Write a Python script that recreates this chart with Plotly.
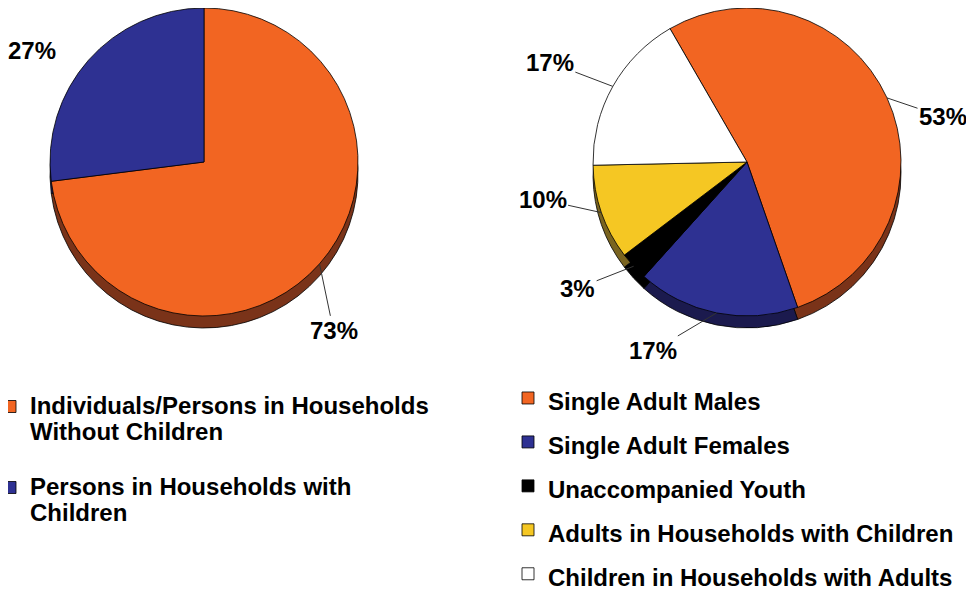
import numpy as np
import plotly.graph_objects as go

# The page body adds an 8px margin at the top-left, so the figure is made
# 8px smaller and reference pixel positions are shifted by that margin.
PAGE_W, PAGE_H, BODY = 974, 593, 8
W, H = PAGE_W - BODY, PAGE_H - BODY
FONT = "Liberation Sans, Arial, sans-serif"

# ---------------- data ----------------
left_labels = ["Individuals/Persons in Households<br>Without Children",
               "Persons in Households with<br>Children"]
left_values = [73, 27]
left_colors = ["#F26522", "#2E3192"]
left_shadow = ["#7A3319", "#1B1A4E"]

right_labels = ["Single Adult Males", "Single Adult Females", "Unaccompanied Youth",
                "Adults in Households with Children", "Children in Households with Adults"]
right_values = [53, 17, 3, 10, 17]
right_colors = ["#F26522", "#2E3192", "#000000", "#F5C723", "#FFFFFF"]
right_shadow = ["#7A3319", "#1B1A4E", "#000000", "#7A6420", "#BBBBBB"]

# ---------------- layout / style (figure pixels) ----------------
LEFT = dict(cx=204 - BODY, cy=162 - BODY, r=154, rot=0,
            label_off=[(14, 67), (-56, -10)], leader=[True, False])
RIGHT = dict(cx=747 - BODY, cy=162 - BODY, r=154, rot=-30,
             label_off=[(56, 19), (-64, 38), (-56, 22), (-59, -13), (-63, -24)],
             leader=[True, True, True, True, True])
DEPTH = 12
TEXT_PX = 24


def dom(p, dy=0):
    y0 = max(0.0, 1 - (p["cy"] + p["r"] + dy) / H)
    y1 = min(1.0, 1 - (p["cy"] - p["r"] + dy) / H)
    return dict(x=[(p["cx"] - p["r"]) / W, (p["cx"] + p["r"]) / W], y=[y0, y1])


def pie(labels, values, colors, p, dy=0, showlegend=True, legend="legend"):
    return go.Pie(labels=labels, values=values, sort=False, direction="clockwise",
                  rotation=p["rot"], domain=dom(p, dy),
                  marker=dict(colors=colors, line=dict(color="#000000", width=0.8)),
                  textinfo="none", hoverinfo="label+percent",
                  showlegend=showlegend, legend=legend)


def pct_annotations(values, p):
    vals = np.asarray(values, dtype=float)
    total = vals.sum()
    mids = (np.cumsum(vals) - vals / 2) / total
    anns = []
    for v, m, (ox, oy), lead in zip(vals, mids, p["label_off"], p["leader"]):
        th = np.deg2rad(p["rot"] + 360 * m)
        rx = p["cx"] + p["r"] * np.sin(th)
        ry = p["cy"] - p["r"] * np.cos(th)
        anns.append(dict(
            x=rx / W, y=1 - ry / H, xref="paper", yref="paper",
            ax=ox, ay=oy,
            text=f"{round(100 * v / total)}%", showarrow=True,
            arrowhead=0, arrowwidth=1,
            arrowcolor="#333333" if lead else "rgba(0,0,0,0)",
            font=dict(family=FONT, size=TEXT_PX, color="#000000", weight="bold")))
    return anns


def legend_text(label, extra_line=False):
    lines = [f"<span style='font-size:{TEXT_PX}px'>{ln}</span>" for ln in label.split("<br>")]
    if extra_line:
        lines.append(" ")
    return "<br>".join(lines)


fig = go.Figure()
fig.add_trace(pie(left_labels, left_values, left_shadow, LEFT, dy=DEPTH, showlegend=False))
fig.add_trace(pie(right_labels, right_values, right_shadow, RIGHT, dy=DEPTH, showlegend=False))
fig.add_trace(pie([legend_text(t, True) for t in left_labels],
                  left_values, left_colors, LEFT, legend="legend"))
fig.add_trace(pie([legend_text(t) for t in right_labels],
                  right_values, right_colors, RIGHT, legend="legend2"))

fig.update_layout(
    width=W, height=H,
    margin=dict(l=0, r=0, t=0, b=0, autoexpand=False),
    paper_bgcolor="#FFFFFF", plot_bgcolor="#FFFFFF",
    annotations=pct_annotations(left_values, LEFT) + pct_annotations(right_values, RIGHT),
    legend=dict(x=-18 / W, y=1 - 379 / H, xanchor="left", yanchor="top",
                valign="top", bgcolor="rgba(0,0,0,0)",
                font=dict(family=FONT, size=20, color="#000000", weight="bold")),
    legend2=dict(x=500 / W, y=1 - 363 / H, xanchor="left", yanchor="top",
                 bgcolor="rgba(0,0,0,0)",
                 font=dict(family=FONT, size=31.5, color="#000000", weight="bold")),
)

fig.write_html("out.html")
